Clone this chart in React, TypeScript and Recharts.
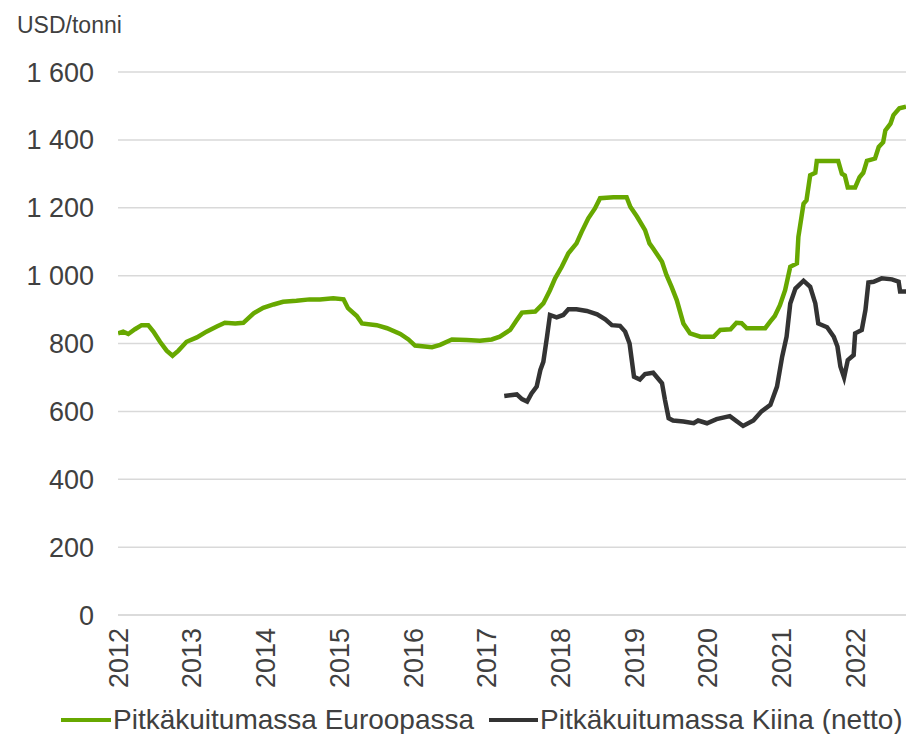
import { LineChart, Line, CartesianGrid, XAxis, YAxis } from "recharts";

// Pitkäkuitumassa Eurooppa, USD/tonni (vuosi desimaalina)
const euroYears = [
  2012.0, 2012.07, 2012.14, 2012.23, 2012.32, 2012.41, 2012.48, 2012.57, 2012.66, 2012.74,
  2012.82, 2012.93, 2013.07, 2013.2, 2013.34, 2013.45, 2013.59, 2013.7, 2013.84, 2013.97,
  2014.11, 2014.24, 2014.42, 2014.6, 2014.74, 2014.92, 2015.06, 2015.12, 2015.24, 2015.31,
  2015.51, 2015.65, 2015.83, 2015.94, 2016.03, 2016.26, 2016.37, 2016.53, 2016.73, 2016.91,
  2017.07, 2017.18, 2017.32, 2017.41, 2017.48, 2017.66, 2017.77, 2017.86, 2017.93, 2018.02,
  2018.11, 2018.22, 2018.29, 2018.38, 2018.47, 2018.54, 2018.72, 2018.9, 2018.95, 2019.04,
  2019.15, 2019.21, 2019.26, 2019.38, 2019.44, 2019.51, 2019.58, 2019.67, 2019.76, 2019.9,
  2020.08, 2020.17, 2020.31, 2020.39, 2020.46, 2020.53, 2020.78, 2020.85, 2020.91, 2020.98,
  2021.05, 2021.12, 2021.21, 2021.23, 2021.3, 2021.34, 2021.39, 2021.46, 2021.48, 2021.77,
  2021.82, 2021.86, 2021.9, 2022.0, 2022.06, 2022.11, 2022.16, 2022.27, 2022.32, 2022.38,
  2022.41, 2022.48, 2022.52, 2022.6, 2022.69,
];
const euroPrices = [
  830, 835, 828, 842, 854, 854, 835, 805, 779, 764,
  779, 805, 818, 835, 850, 861, 859, 861, 889, 905,
  915, 923, 926, 930, 930, 933, 930, 904, 881, 859,
  854, 845, 828, 812, 794, 789, 796, 812, 810, 808,
  812, 820, 840, 869, 891, 894, 918, 957, 992, 1026,
  1066, 1095, 1129, 1169, 1198, 1228, 1231, 1231, 1203, 1174,
  1134, 1095, 1080, 1041, 1002, 967, 928, 859, 830, 820,
  820, 840, 842, 861, 860, 845, 845, 865, 881, 913,
  957, 1026, 1036, 1114, 1212, 1222, 1296, 1303, 1338, 1338,
  1300, 1295, 1260, 1260, 1290, 1303, 1338, 1345, 1379, 1393,
  1428, 1448, 1473, 1493, 1498,
];

// Pitkäkuitumassa Kiina (netto), USD/tonni
const chinaYears = [
  2017.24, 2017.41, 2017.48, 2017.55, 2017.61, 2017.68, 2017.73, 2017.77, 2017.82, 2017.86,
  2017.95, 2018.04, 2018.11, 2018.22, 2018.36, 2018.5, 2018.61, 2018.7, 2018.81, 2018.88,
  2018.94, 2018.97, 2019.0, 2019.08, 2019.15, 2019.26, 2019.38, 2019.42, 2019.47, 2019.53,
  2019.67, 2019.81, 2019.87, 2019.99, 2020.12, 2020.3, 2020.48, 2020.62, 2020.73, 2020.85,
  2020.94, 2021.01, 2021.07, 2021.12, 2021.19, 2021.3, 2021.39, 2021.46, 2021.5, 2021.62,
  2021.71, 2021.76, 2021.8, 2021.85, 2021.9, 2021.98, 2022.0, 2022.09, 2022.14, 2022.18,
  2022.25, 2022.36, 2022.5, 2022.59, 2022.61, 2022.69,
];
const chinaPrices = [
  645, 650, 636, 629, 653, 673, 722, 746, 820, 884,
  877, 884, 901, 901, 896, 886, 871, 854, 852, 835,
  800, 751, 702, 694, 710, 714, 683, 634, 580, 573,
  570, 565, 573, 565, 577, 586, 557, 573, 600, 619,
  673, 761, 820, 918, 962, 985, 967, 918, 859, 848,
  820, 791, 732, 700, 751, 766, 830, 840, 899, 980,
  982, 992, 989, 982, 953, 953,
];

const yearTicks = [2012, 2013, 2014, 2015, 2016, 2017, 2018, 2019, 2020, 2021, 2022];
const priceTicks = [0, 200, 400, 600, 800, 1000, 1200, 1400, 1600];

const euroData = euroYears.map((t, i) => ({ t, v: euroPrices[i] }));
const chinaData = chinaYears.map((t, i) => ({ t, v: chinaPrices[i] }));

const FONT = '"Liberation Sans", Arial, sans-serif';
const TEXT = "#404040";
const GREEN = "#67a800";
const DARK = "#333333";

const fmt = (v: number) => String(v).replace(/\B(?=(\d{3})+(?!\d))/g, " ");

function YearTick({ x, y, payload }: any) {
  return (
    <text
      transform={`translate(${x},${y + 13}) rotate(-90)`}
      textAnchor="end"
      dy="0.36em"
      fontSize={27}
      fontFamily={FONT}
      fill={TEXT}
    >
      {payload.value}
    </text>
  );
}

export default function App() {
  return (
    <div
      style={{
        position: "absolute",
        left: 0,
        top: 0,
        width: 906,
        height: 734,
        background: "#fff",
        fontFamily: FONT,
        color: TEXT,
      }}
    >
      <div style={{ position: "absolute", left: 17, top: 14, fontSize: 23, lineHeight: "23px" }}>
        USD/tonni
      </div>
      <LineChart
        width={906}
        height={734}
        margin={{ top: 72, right: 0, bottom: 39, left: 0 }}
      >
        <CartesianGrid vertical={false} stroke="#d9d9d9" strokeWidth={1.5} />
        <XAxis
          dataKey="t"
          type="number"
          domain={[2012, 2022.69]}
          ticks={yearTicks}
          allowDataOverflow
          height={80}
          tickSize={0}
          tickMargin={0}
          axisLine={{ stroke: "#d9d9d9", strokeWidth: 1.5 }}
          tickLine={false}
          tick={<YearTick />}
          interval={0}
        />
        <YAxis
          type="number"
          domain={[0, 1600]}
          ticks={priceTicks}
          width={118}
          axisLine={false}
          tickLine={false}
          tickSize={0}
          tickMargin={24}
          tickFormatter={fmt}
          tick={{ fontSize: 27, fill: TEXT, fontFamily: FONT }}
        />
        <Line
          data={euroData}
          dataKey="v"
          type="linear"
          stroke={GREEN}
          strokeWidth={4.5}
          dot={false}
          isAnimationActive={false}
        />
        <Line
          data={chinaData}
          dataKey="v"
          type="linear"
          stroke={DARK}
          strokeWidth={4.5}
          dot={false}
          isAnimationActive={false}
        />
      </LineChart>
      <div style={{ position: "absolute", left: 61, top: 718, width: 50, height: 4, background: GREEN }} />
      <div style={{ position: "absolute", left: 113, top: 706, fontSize: 28, lineHeight: "28px", whiteSpace: "nowrap" }}>
        Pitkäkuitumassa Euroopassa
      </div>
      <div style={{ position: "absolute", left: 489, top: 718, width: 49, height: 4, background: DARK }} />
      <div style={{ position: "absolute", left: 540, top: 706, fontSize: 28, lineHeight: "28px", whiteSpace: "nowrap" }}>
        Pitkäkuitumassa Kiina (netto)
      </div>
    </div>
  );
}
